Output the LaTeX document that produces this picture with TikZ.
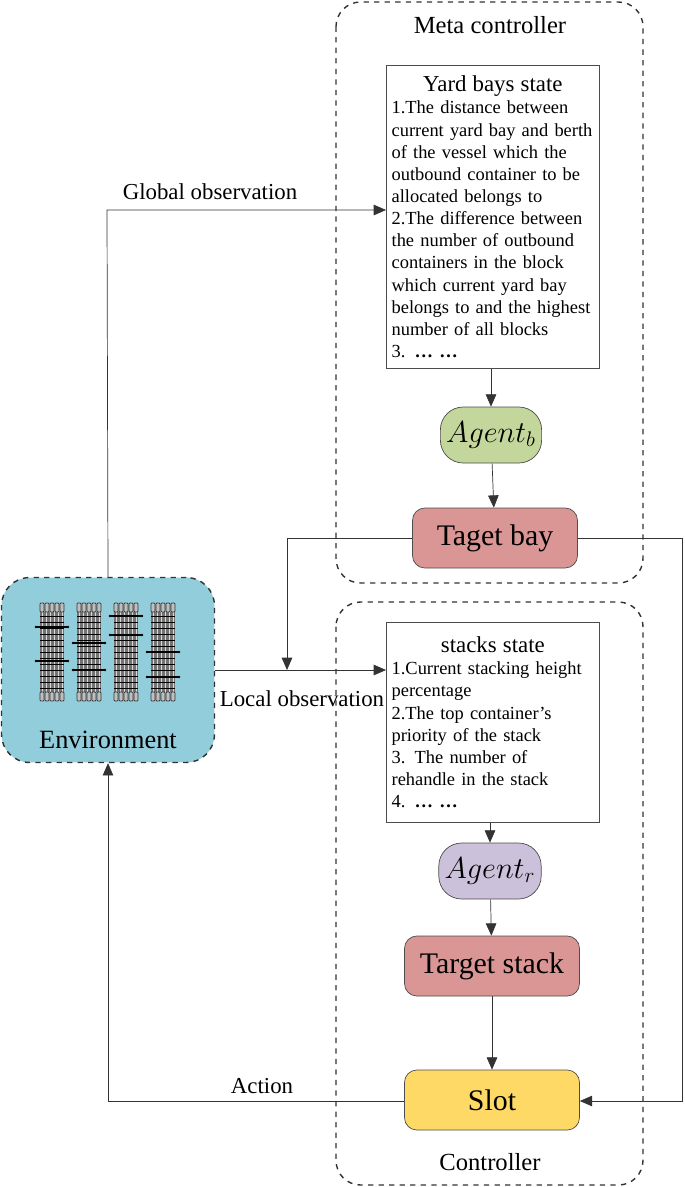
\documentclass[tikz,border=0pt]{standalone}
\usepackage{fontspec}
\setmainfont{Liberation Serif}
\usetikzlibrary{arrows.meta}
\definecolor{envblue}{HTML}{92CDDC}
\definecolor{agentg}{HTML}{C3D69B}
\definecolor{agentp}{HTML}{CCC1DA}
\definecolor{bayred}{HTML}{D99694}
\definecolor{slotyel}{HTML}{FFD966}
\begin{document}
\begin{tikzpicture}[x=0.02cm,y=-0.02cm,
  grp/.style={draw=black!80,thick,dashed,rounded corners=14pt},
  state/.style={draw=black!70,fill=white,text width=4.05cm,align=left,inner sep=3pt,font=\fontsize{10.5}{12.6}\selectfont},
  act/.style={draw=black!70,rounded corners=7pt,minimum width=3.5cm,minimum height=1.2cm,font=\fontsize{17}{20}\selectfont},
  agent/.style={draw=black!70,rounded corners=13pt,minimum width=2cm,minimum height=1.12cm,font=\fontsize{17}{20}\selectfont},
  arr/.style={-{Triangle[length=7pt,width=6pt]},draw=black!80},
  lbl/.style={font=\fontsize{13}{15}\selectfont}]
\useasboundingbox (0,0) rectangle (685,1187);
% groups
\draw[grp] (336,2) rectangle (643,583);
\node[lbl,font=\fontsize{14}{16}\selectfont] (metalbl) at (490,25) {Meta controller};
\draw[grp] (336,602) rectangle (643,1185);
\node[lbl,font=\fontsize{14}{16}\selectfont] (ctrllbl) at (490,1162) {Controller};
% state boxes
\node[state,minimum height=6.06cm,anchor=north west] (yard) at (386,65) {%
  \centering{\fontsize{13}{16}\selectfont Yard bays state}\par\raggedright
  1.The distance between current yard bay and berth of the vessel which the outbound container to be allocated belongs to\par
  2.The difference between the number of outbound containers in the block which current yard bay belongs to and the highest number of all blocks\par
  3. \textbf{\ldots\ \ldots}};
\node[state,minimum height=4cm,anchor=north west] (stacks) at (386,622) {%
  \centering{\fontsize{13}{16}\selectfont stacks state}\par\raggedright
  1.Current stacking height percentage\par
  2.The top container’s priority of the stack\par
  3. The number of rehandle in the stack\par
  4. \textbf{\ldots\ \ldots}};
% agents and actions
\node[agent,fill=agentg] (agb) at (491,435) {$Agent_b$};
\node[act,fill=bayred,minimum width=3.3cm] (bay) at (495,538) {Taget bay};
\node[agent,fill=agentp] (agr) at (490,871) {$Agent_r$};
\node[act,fill=bayred] (stack) at (492,966) {Target stack};
\node[act,fill=slotyel] (slot) at (492,1100) {Slot};
% environment
\node[draw=black!80,thick,dashed,fill=envblue,rounded corners=16pt,minimum width=4.26cm,minimum height=3.7cm] (env) at (108,670) {};
\node[lbl,font=\fontsize{15}{18}\selectfont] (envlbl) at (108,740) {Environment};
\foreach \cx/\ya/\yb in {52/627/661, 89/643/670, 126/616/635, 163/652/677}{
  \fill[black!55] (\cx-12,612) rectangle (\cx+12,692);
  \foreach \i in {-10,-6,...,10} \draw[white!85!black,line width=0.5pt] (\cx+\i,612) -- (\cx+\i,692);
  \foreach \j in {616,622,...,690} \draw[black,line width=0.4pt] (\cx-12,\j) -- (\cx+12,\j);
  \foreach \i in {-10,-5,...,10}{
    \draw[black!80,fill=black!25,rounded corners=0.5pt] (\cx+\i-2,603) rectangle (\cx+\i+2,612);
    \draw[black!80,fill=black!25,rounded corners=0.5pt] (\cx+\i-2,692) rectangle (\cx+\i+2,701);}
  \foreach \y in {\ya,\yb}{
    \draw[black,line width=1.2pt] (\cx-16,\y) -- (\cx+16,\y);
    \fill (\cx-16,\y) circle (1.3); \fill (\cx+16,\y) circle (1.3);}
}
% coordinates
\coordinate (g1) at (107,210);
\coordinate (b1) at (287,538);
\coordinate (b2) at (287,670);
\coordinate (r1) at (682,538);
\coordinate (r2) at (682,1101);
\coordinate (a1) at (108,1101);
% connectors
\draw[arr] (env.north) -- (g1) -- (yard.west |- g1);
\node[lbl] (globlbl) at (210,192) {Global observation};
\draw[arr] (yard.south -| agb) -- (agb);
\draw[arr] (agb) -- (bay);
\draw[arr] (bay.west) -- (b1) -- (b2);
\draw[arr] (env.east |- b2) -- (stacks.west |- b2);
\node[lbl] (loclbl) at (302,699) {Local observation};
\draw[arr] (stacks.south -| agr) -- (agr);
\draw[arr] (agr) -- (stack);
\draw[arr] (stack) -- (slot);
\draw[arr] (bay.east) -- (r1) -- (r2) -- (slot.east |- r2);
\draw[arr] (slot.west |- a1) -- (a1) -- (env.south);
\node[lbl] (actlbl) at (262,1086) {Action};
\end{tikzpicture}
\end{document}
